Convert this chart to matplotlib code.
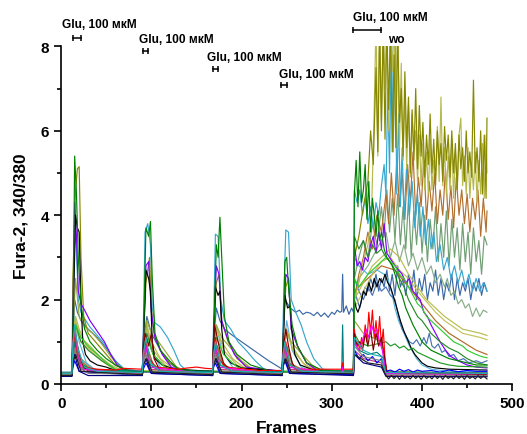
import matplotlib.pyplot as plt

plt.rcParams['font.family'] = ['Liberation Sans', 'DejaVu Sans']
plt.rcParams['font.weight'] = 'bold'
plt.rcParams['axes.labelweight'] = 'bold'

# (frame, 340/380 ratio) points, one list per cell

steelblue = [(0, .24), (12, .24), (13, 1.0), (15, 2.0), (18, 1.7), (22, 1.5), (30, 1.3), (40, 1.1), (50, .85),
             (60, .55), (70, .35), (90, .3), (91, .9), (95, 1.6), (100, 1.2), (110, .8), (120, .5), (130, .33),
             (168, .3), (169, 1.0), (172, 1.8), (176, 1.5), (181, 1.3), (190, 1.15), (200, 1.0), (210, .85),
             (220, .7), (230, .55), (240, .42), (245, .35), (246, 1.2), (248, 2.0), (251, 1.9), (254, 1.8),
             (257, 1.75), (260, 1.7), (264, 1.75), (268, 1.65), (272, 1.7), (276, 1.68), (280, 1.62), (284, 1.7),
             (288, 1.6), (292, 1.68), (296, 1.58), (300, 1.7), (303, 1.65), (306, 1.75), (309, 1.7), (311, 1.72),
             (312, 2.6), (313, 1.7), (316, 1.85), (319, 1.65), (322, 1.8), (324, 1.7), (325, 2.3), (328, 2.0),
             (331, 1.8), (334, 2.1), (337, 2.3), (340, 2.2), (343, 2.5), (346, 2.3), (349, 2.6), (352, 2.2),
             (355, 2.5), (358, 2.3), (361, 2.7), (364, 2.2), (367, 2.6), (370, 2.1), (373, 2.8), (376, 2.3),
             (379, 2.5), (382, 2.1), (385, 2.6), (388, 2.2), (391, 2.7), (394, 2.0), (397, 2.5), (400, 2.2),
             (403, 2.6), (406, 2.0), (409, 2.4), (412, 2.2), (415, 2.7), (418, 2.1), (421, 2.5), (424, 2.0),
             (427, 2.4), (430, 2.2), (433, 2.6), (436, 2.0), (439, 2.5), (442, 2.1), (445, 2.4), (448, 2.2),
             (451, 2.5), (454, 2.0), (457, 2.4), (460, 2.2), (463, 2.5), (466, 2.1), (469, 2.4), (472, 2.2)]

graygreen = [(0, .22), (12, .22), (13, .7), (16, 1.1), (22, .6), (35, .35), (90, .28), (91, .6), (95, .9),
             (102, .45), (115, .3), (168, .28), (169, .6), (173, .9), (180, .45), (195, .3), (245, .28),
             (246, .6), (250, .9), (257, .45), (270, .3), (324, .3), (325, 2.5), (330, 3.0), (335, 3.4),
             (340, 3.0), (345, 3.8), (350, 3.3), (355, 4.2), (358, 3.5), (361, 4.6), (364, 3.6), (367, 4.4),
             (370, 3.4), (373, 4.5), (376, 3.3), (379, 4.2), (382, 3.2), (385, 4.4), (388, 3.0), (391, 4.1),
             (394, 3.3), (397, 4.3), (400, 3.1), (403, 4.0), (406, 2.9), (409, 3.9), (412, 3.2), (415, 4.2),
             (418, 2.9), (421, 3.8), (424, 3.0), (427, 4.1), (430, 2.8), (433, 3.9), (436, 3.0), (439, 3.7),
             (442, 2.7), (445, 3.8), (448, 2.9), (451, 3.6), (454, 2.6), (457, 3.7), (460, 2.9), (463, 3.4),
             (466, 2.6), (469, 3.5), (472, 3.3)]

graygreen2 = [(0, .2), (12, .2), (13, .6), (16, .9), (22, .5), (35, .3), (90, .25), (91, .5), (95, .8),
              (102, .4), (115, .27), (168, .25), (169, .5), (173, .8), (180, .4), (195, .27), (245, .25),
              (246, .5), (250, .8), (257, .4), (270, .27), (324, .28), (325, 2.0), (330, 2.5), (340, 2.8),
              (350, 3.2), (360, 3.6), (365, 3.0), (370, 3.4), (375, 2.9), (380, 3.3), (385, 2.8), (390, 3.1),
              (395, 2.7), (400, 3.0), (405, 2.6), (410, 2.8), (415, 2.4), (420, 2.6), (425, 2.3), (428, 2.5),
              (432, 2.1), (436, 2.2), (440, 1.9), (444, 2.0), (448, 1.8), (452, 1.9), (456, 1.6), (460, 1.8),
              (464, 1.6), (468, 1.75), (472, 1.7)]

brown = [(0, .25), (12, .25), (13, .7), (16, 1.0), (22, .55), (35, .32), (90, .3), (91, .6), (95, .9),
         (102, .45), (115, .32), (168, .3), (169, .6), (173, .9), (180, .45), (195, .32), (245, .3),
         (246, .6), (250, .9), (257, .45), (270, .32), (324, .3), (325, 2.0), (330, 2.6), (335, 3.0),
         (340, 3.6), (345, 3.2), (350, 4.0), (355, 3.6), (360, 4.5), (363, 3.8), (366, 5.0), (369, 4.0),
         (372, 5.3), (375, 4.2), (378, 5.0), (381, 3.9), (384, 5.2), (387, 4.3), (390, 5.5), (393, 4.0),
         (396, 4.9), (399, 4.2), (402, 5.3), (405, 3.9), (408, 4.8), (411, 4.1), (414, 5.0), (417, 3.8),
         (420, 4.6), (423, 4.0), (426, 5.1), (429, 3.9), (432, 4.7), (435, 3.7), (438, 4.9), (441, 4.0),
         (444, 4.6), (447, 3.8), (450, 4.5), (453, 3.6), (456, 4.4), (459, 3.9), (462, 4.6), (465, 3.5),
         (468, 4.4), (471, 3.6), (472, 4.1)]

brown2 = [(0, .22), (12, .22), (13, .5), (16, .8), (22, .4), (35, .28), (324, .28), (325, 2.2), (340, 2.5),
          (355, 2.8), (370, 2.7), (385, 2.3), (400, 1.9), (415, 1.5), (430, 1.2), (445, 1.0), (460, .8),
          (472, .7)]

lightblue = [(0, .22), (12, .22), (13, 1.5), (15, 3.6), (17, 3.2), (19, 2.0), (22, 1.7), (26, 1.55), (32, 1.35),
             (40, 1.15), (48, .95), (55, .7), (62, .5), (70, .35), (90, .3), (91, 1.2), (93, 3.6), (96, 3.8),
             (99, 3.3), (101, 1.8), (104, 1.45), (110, 1.35), (118, 1.1), (125, .8), (132, .45), (140, .3),
             (168, .3), (169, 1.5), (171, 3.55), (174, 3.5), (177, 2.0), (181, 1.5), (188, 1.3), (196, 1.0),
             (205, .8), (215, .55), (225, .35), (245, .3), (246, 1.5), (249, 3.65), (252, 3.6), (255, 2.0),
             (260, 1.7), (266, 1.4), (272, 1.0), (280, .6), (290, .35), (311, .3), (312, .5), (313, .3),
             (324, .3), (325, 4.6), (328, 4.3), (331, 4.6), (334, 4.0), (337, 4.4), (340, 3.8), (343, 4.2),
             (346, 3.7), (349, 4.3), (352, 4.0), (355, 4.7), (358, 5.2), (360, 4.5), (362, 7.0), (364, 5.0),
             (366, 8.6), (368, 5.5), (370, 8.6), (372, 4.5), (374, 6.4), (376, 4.2), (378, 5.6), (380, 3.9),
             (383, 5.2), (386, 4.0), (389, 4.8), (392, 3.7), (395, 4.5), (398, 3.5), (401, 4.2), (404, 3.3),
             (407, 3.9), (410, 3.2), (413, 3.6), (416, 2.9), (420, 3.3), (424, 2.7), (428, 3.0), (432, 2.5),
             (436, 2.8), (440, 2.4), (444, 2.7), (448, 2.3), (452, 2.6), (456, 2.2), (460, 2.5), (464, 2.2),
             (468, 2.4), (472, 2.2)]

lightblue2 = [(0, .2), (12, .2), (13, .8), (15, 1.6), (20, 1.0), (28, .5), (40, .3), (90, .26), (91, .7),
              (95, 1.4), (100, .8), (110, .4), (125, .28), (168, .26), (169, .8), (172, 1.4), (178, .8),
              (190, .4), (205, .28), (245, .26), (246, .7), (250, 1.5), (256, .8), (266, .4), (280, .28),
              (324, .28), (325, 3.0), (330, 2.8), (340, 2.6), (350, 2.7), (358, 2.6), (362, 2.5), (366, 2.2),
              (370, 1.8), (374, 1.5), (378, 1.3), (382, 1.1), (386, .9), (390, .75), (394, .6), (400, .45),
              (410, .35), (430, .3), (472, .28)]

steelblue2 = [(0, .2), (12, .2), (13, .6), (16, 1.0), (22, .5), (35, .28), (324, .28), (325, 2.5), (330, 2.2),
              (335, 2.0), (340, 2.3), (345, 2.1), (350, 2.4), (355, 2.2), (360, 2.3), (365, 2.1), (370, 2.0),
              (374, 1.6), (378, 1.3), (382, 1.15), (386, 1.0), (390, .95), (394, 1.05), (398, .9), (402, 1.1),
              (405, .95), (408, 1.2), (411, .9), (414, .85), (418, .95), (422, .75), (426, .8), (430, .65),
              (435, .7), (440, .55), (446, .6), (452, .5), (460, .55), (466, .5), (472, .55)]

khaki = [(0, .2), (12, .2), (13, 1.2), (16, 1.6), (20, 1.3), (28, .9), (40, .7), (55, .45), (70, .3), (90, .28),
         (91, .9), (95, 1.4), (100, 1.0), (110, .6), (125, .35), (168, .28), (169, .9), (172, 1.3), (178, 1.0),
         (190, .6), (205, .35), (245, .28), (246, .8), (250, 1.2), (256, .9), (268, .5), (282, .3), (324, .3),
         (325, 2.0), (330, 2.4), (335, 2.9), (340, 3.3), (344, 4.0), (347, 6.5), (349, 8.6), (351, 5.4),
         (353, 8.6), (355, 6.2), (357, 8.6), (359, 7.0), (361, 8.6), (363, 6.0), (365, 8.6), (367, 7.4),
         (369, 8.6), (371, 5.9), (373, 8.6), (375, 5.6), (377, 7.6), (379, 5.3), (381, 6.9), (383, 5.1),
         (385, 6.6), (387, 4.9), (389, 6.4), (391, 5.5), (393, 6.0), (395, 4.8), (397, 5.9), (399, 4.7),
         (401, 5.7), (403, 4.6), (405, 5.5), (407, 4.5), (409, 5.8), (411, 4.6), (413, 5.3), (415, 4.9),
         (417, 6.1), (419, 4.8), (421, 6.8), (423, 4.7), (425, 5.6), (427, 4.5), (429, 5.4), (431, 4.6),
         (433, 5.8), (435, 4.4), (437, 5.5), (439, 4.6), (441, 5.9), (443, 6.3), (445, 4.7), (447, 5.4),
         (449, 4.5), (451, 5.6), (453, 4.4), (455, 5.2), (457, 4.6), (459, 5.5), (461, 4.3), (463, 5.3),
         (465, 4.5), (467, 5.7), (469, 4.4), (471, 5.9), (472, 5.0)]

olive = [(0, .24), (12, .24), (13, 2.5), (16, 4.6), (18, 5.1), (20, 5.15), (22, 3.0), (25, 1.6), (30, 1.2),
         (40, .95), (50, .7), (60, .45), (75, .3), (90, .3), (91, 1.0), (94, 2.4), (98, 3.0), (100, 1.8),
         (103, 1.2), (110, .8), (120, .5), (135, .32), (168, .3), (169, 1.2), (172, 2.4), (175, 2.6),
         (178, 1.5), (185, 1.0), (195, .6), (210, .35), (245, .3), (246, 1.0), (249, 2.3), (252, 2.5),
         (255, 1.3), (262, .9), (272, .5), (285, .32), (311, .3), (312, .45), (313, .3), (324, .3),
         (325, 3.0), (330, 3.5), (335, 4.2), (340, 4.8), (343, 6.0), (346, 5.2), (349, 7.5), (351, 5.5),
         (353, 8.5), (355, 6.0), (357, 8.5), (359, 5.8), (361, 8.5), (363, 6.5), (365, 8.5), (367, 5.5),
         (369, 7.8), (371, 5.6), (373, 8.5), (375, 6.2), (377, 7.0), (379, 5.4), (381, 7.4), (383, 5.6),
         (385, 6.8), (387, 5.0), (389, 6.5), (391, 5.3), (393, 7.0), (395, 5.1), (397, 6.6), (399, 5.4),
         (401, 6.2), (403, 4.9), (405, 5.9), (407, 5.2), (409, 6.4), (411, 5.0), (413, 5.8), (415, 4.7),
         (417, 6.0), (419, 5.2), (421, 5.7), (423, 4.8), (425, 6.1), (427, 5.3), (429, 5.9), (431, 4.9),
         (433, 6.0), (435, 5.0), (437, 5.7), (439, 4.6), (441, 5.9), (443, 5.1), (445, 5.6), (447, 4.8),
         (449, 6.0), (451, 5.0), (453, 5.5), (455, 4.9), (457, 7.2), (459, 5.0), (461, 5.6), (463, 4.8),
         (465, 6.0), (467, 4.5), (469, 5.9), (471, 4.4), (472, 6.3)]

khaki2 = [(0, .22), (12, .22), (13, .9), (16, 1.5), (22, 1.1), (32, .9), (45, .6), (60, .35), (90, .28),
          (91, .8), (95, 1.3), (102, .8), (115, .45), (130, .3), (168, .28), (169, .8), (173, 1.3),
          (180, .8), (195, .45), (210, .3), (245, .28), (246, .8), (250, 1.3), (257, .8), (270, .45),
          (285, .3), (324, .3), (325, 2.0), (335, 2.4), (345, 2.8), (355, 3.0), (365, 3.2), (375, 3.0),
          (385, 2.6), (395, 2.3), (405, 2.0), (415, 1.8), (425, 1.6), (435, 1.45), (445, 1.3), (455, 1.25),
          (465, 1.2), (472, 1.15)]

khaki3 = [(0, .2), (12, .2), (13, .8), (16, 1.3), (22, 1.0), (32, .8), (45, .55), (60, .32), (324, .28),
          (325, 1.8), (335, 2.2), (345, 2.6), (355, 2.9), (365, 3.0), (375, 2.7), (385, 2.5), (395, 2.2),
          (405, 1.95), (415, 1.7), (425, 1.5), (435, 1.35), (445, 1.2), (455, 1.15), (465, 1.1), (472, 1.05)]

yellowgreen = [(0, .22), (12, .22), (13, 1.2), (16, 2.5), (20, 1.6), (26, 1.35), (35, 1.2), (45, .95),
               (55, .65), (65, .4), (75, .3), (90, .28), (91, .8), (95, 1.5), (100, 1.2), (108, 1.0),
               (118, .7), (128, .4), (138, .3), (168, .28), (169, .8), (172, 1.4), (178, 1.1), (188, .85),
               (200, .55), (212, .35), (245, .28), (246, .8), (249, 1.3), (255, 1.0), (265, .75), (278, .45),
               (290, .3), (324, .3), (325, 1.5), (335, 1.2), (345, 1.1), (355, 1.0), (361, .3), (472, .26)]

purple = [(0, .22), (12, .22), (13, 1.5), (15, 4.3), (17, 3.5), (19, 2.2), (22, 1.9), (26, 1.75), (32, 1.5),
          (40, 1.25), (48, 1.0), (55, .7), (62, .45), (70, .32), (90, .3), (91, 1.0), (94, 2.8), (97, 2.9),
          (100, 1.7), (104, 1.1), (112, .7), (122, .4), (135, .3), (168, .3), (169, 1.2), (172, 2.8),
          (175, 2.6), (178, 1.5), (184, 1.1), (192, .7), (205, .4), (245, .3), (246, 1.0), (249, 2.6),
          (252, 2.5), (255, 1.3), (262, .9), (272, .5), (285, .3), (324, .3), (325, 3.3), (328, 2.8),
          (331, 2.9), (334, 2.7), (337, 3.0), (340, 2.9), (343, 3.3), (346, 3.5), (349, 3.1), (352, 3.6),
          (355, 3.2), (358, 3.8), (361, 3.1), (364, 3.0), (367, 2.9), (370, 2.8), (374, 2.7), (378, 2.6),
          (382, 2.4), (386, 2.5), (390, 2.2), (394, 2.1), (398, 2.0), (402, 1.7), (406, 1.6), (410, 1.4),
          (415, 1.2), (420, 1.0), (426, .8), (432, .65), (440, .55), (450, .45), (460, .4), (472, .38)]

black = [(0, .22), (12, .22), (13, 1.2), (16, 4.0), (18, 3.7), (20, 3.6), (22, 2.0), (24, 1.0), (27, .7),
         (32, .55), (40, .45), (50, .4), (60, .32), (80, .3), (90, .28), (91, .8), (94, 2.7), (97, 2.5),
         (99, 2.2), (101, 1.0), (104, .6), (112, .45), (125, .35), (168, .3), (169, .9), (171, 2.3),
         (174, 2.1), (176, 2.2), (178, 1.3), (181, .7), (188, .5), (200, .38), (245, .3), (246, .9),
         (248, 2.1), (251, 1.8), (254, 1.85), (256, 1.2), (259, .7), (265, .45), (280, .33), (311, .3),
         (312, .45), (313, .3), (324, .3), (325, 2.0), (327, 1.8), (329, 1.7), (332, 1.9), (335, 2.2),
         (338, 2.1), (341, 2.4), (344, 2.2), (347, 2.5), (350, 2.3), (353, 2.5), (356, 2.4), (359, 2.6),
         (362, 2.4), (365, 2.3), (368, 2.1), (372, 1.8), (376, 1.5), (380, 1.25), (384, 1.05), (388, .85),
         (392, .7), (396, .6), (400, .5), (406, .42), (415, .38), (430, .35), (472, .33)]

green = [(0, .22), (12, .22), (13, 1.0), (15, 5.4), (17, 4.5), (19, 3.0), (22, 1.9), (26, 1.3), (32, 1.0),
         (40, .8), (50, .6), (60, .45), (70, .35), (80, .3), (90, .28), (91, .8), (94, 3.7), (97, 3.5),
         (99, 3.85), (101, 2.5), (104, 1.2), (110, .8), (120, .55), (130, .35), (150, .3), (168, .3),
         (169, 1.0), (172, 3.3), (174, 3.0), (176, 3.95), (178, 3.0), (181, 1.6), (186, 1.0), (195, .7),
         (210, .45), (230, .32), (245, .3), (246, .9), (248, 2.9), (250, 3.0), (252, 2.3), (256, 1.4),
         (262, .9), (272, .5), (290, .32), (311, .3), (312, .5), (313, .3), (324, .3), (325, 4.5),
         (327, 5.3), (329, 4.2), (331, 5.5), (333, 4.3), (335, 4.6), (337, 5.2), (339, 3.9), (341, 4.8),
         (343, 3.6), (345, 4.4), (347, 4.0), (349, 3.5), (351, 4.1), (353, 3.4), (355, 3.6), (358, 3.2),
         (361, 3.0), (364, 2.9), (367, 2.8), (370, 2.6), (374, 2.3), (378, 2.1), (382, 1.8), (386, 1.6),
         (390, 1.4), (395, 1.2), (400, 1.0), (405, .9), (410, .8), (420, .7), (430, .6), (440, .55),
         (450, .5), (460, .45), (472, .45)]

green2 = [(0, .22), (12, .22), (13, .8), (16, 1.4), (22, 1.0), (30, .8), (45, .55), (60, .35), (90, .28),
          (91, .7), (95, 1.2), (102, .7), (115, .4), (130, .3), (324, .3), (325, 3.5), (330, 3.2), (335, 3.4),
          (340, 3.0), (345, 3.3), (350, 3.1), (355, 3.2), (360, 3.0), (365, 2.9), (370, 2.7), (375, 2.5),
          (380, 2.3), (385, 2.0), (390, 1.8), (395, 1.6), (400, 1.5), (405, 1.35), (410, 1.2), (415, 1.1),
          (420, 1.0), (430, .85), (440, .75), (450, .6), (460, .5), (472, .45)]

limegreen = [(0, .22), (12, .22), (13, .9), (16, 1.4), (22, 1.1), (30, .9), (40, .7), (50, .5), (62, .32),
             (90, .28), (91, .7), (95, 1.1), (102, .7), (115, .4), (130, .3), (168, .28), (169, .7),
             (172, 1.1), (180, .7), (195, .4), (210, .3), (324, .3), (325, 2.5), (330, 2.3), (340, 2.6),
             (350, 2.8), (360, 3.0), (365, 2.9), (370, 2.8), (375, 2.6), (380, 2.5), (385, 2.3), (390, 2.1),
             (395, 1.9), (400, 1.8), (405, 1.6), (410, 1.5), (415, 1.4), (420, 1.3), (425, 1.2), (430, 1.1),
             (435, 1.0), (440, .95), (445, .9), (450, .8), (455, .75), (460, .7), (466, .65), (472, .62)]

green3 = [(0, .2), (12, .2), (13, .6), (16, 1.0), (22, .5), (35, .3), (324, .28), (325, 1.2), (330, 1.0),
          (340, .9), (350, .95), (360, 1.0), (365, .9), (370, .95), (375, .85), (380, .9), (385, .8),
          (390, .85), (395, .75), (400, .7), (405, .65), (410, .6), (415, .55), (420, .5), (430, .45),
          (440, .42), (472, .4)]

teal = [(0, .28), (12, .28), (13, .7), (15, 1.0), (19, .6), (26, .35), (90, .3), (91, .6), (94, .9),
        (99, .45), (110, .3), (168, .3), (169, .6), (171, .95), (176, .45), (190, .3), (245, .3), (246, .6),
        (248, .9), (253, .45), (265, .3), (311, .3), (312, 1.4), (313, .3), (324, .3), (325, 1.0),
        (330, .8), (340, .7), (350, .75), (358, .6), (361, .28), (472, .26)]

red = [(0, .25), (12, .25), (13, .8), (15, 1.2), (18, .7), (25, .4), (40, .35), (60, .33), (70, .37),
       (80, .36), (90, .35), (91, .7), (94, 1.0), (98, .6), (105, .4), (130, .35), (140, .38), (150, .4),
       (160, .37), (168, .36), (169, .8), (171, 1.1), (175, .6), (182, .4), (220, .32), (245, .32),
       (246, .7), (249, 1.0), (253, .5), (260, .35), (311, .35), (312, .5), (313, .35), (324, .35),
       (325, 1.3), (327, .9), (329, 1.0), (331, .8), (333, 1.1), (335, .9), (337, 1.4), (339, 1.0),
       (341, 1.7), (343, 1.2), (345, 1.75), (347, 1.1), (349, 1.5), (351, 1.0), (353, 1.6), (355, .9),
       (357, 1.3), (359, .6), (361, .3), (365, .25), (472, .25)]

darkred = [(0, .2), (12, .2), (13, 1.0), (15, 1.35), (18, .9), (22, .5), (30, .3), (90, .25), (91, .8),
           (93, 1.2), (97, .9), (100, 1.2), (103, .6), (110, .3), (168, .25), (169, 1.0), (170, 1.4),
           (173, 1.1), (176, .8), (180, .5), (188, .3), (245, .25), (246, .8), (249, 1.3), (252, .9),
           (256, .5), (262, .3), (324, .28), (325, 1.2), (328, .9), (331, 1.0), (334, .8), (337, 1.2),
           (340, .9), (343, 1.3), (346, .8), (349, 1.2), (352, .9), (355, 1.1), (358, .7), (361, .25),
           (472, .22)]

magenta = [(0, .2), (12, .2), (13, .9), (15, 1.3), (18, .8), (22, .35), (90, .22), (91, .7), (94, .9),
           (98, .4), (168, .22), (169, .7), (171, .9), (175, .4), (245, .22), (246, .7), (248, .9),
           (252, .4), (311, .22), (312, .4), (313, .22), (324, .22), (325, 1.0), (330, .8), (335, 1.1),
           (338, 1.3), (341, 1.1), (344, 1.4), (347, 1.2), (350, 1.3), (353, 1.0), (356, .8), (360, .25),
           (472, .2)]

mauve = [(0, .2), (12, .2), (13, 1.0), (15, 1.3), (19, .7), (25, .3), (90, .24), (91, .6), (93, .8),
         (97, .35), (168, .24), (169, .6), (171, .8), (175, .35), (245, .24), (246, .6), (248, .8),
         (252, .35), (324, .24), (325, .8), (335, .6), (345, .55), (355, .5), (360, .2), (472, .18)]

blue = [(0, .2), (12, .2), (13, .4), (15, .55), (20, .3), (90, .2), (91, .35), (94, .5), (100, .25),
        (168, .2), (169, .4), (171, .5), (176, .25), (245, .2), (246, .4), (248, .55), (253, .25),
        (324, .22), (325, .8), (330, .6), (335, .7), (340, .55), (345, .65), (350, .5), (355, .6), (360, .3),
        (365, .33), (370, .28), (375, .35), (380, .3), (385, .34), (390, .28), (395, .33), (400, .3),
        (410, .32), (420, .28), (430, .33), (440, .29), (450, .32), (460, .3), (472, .3)]

navy = [(0, .18), (12, .18), (13, .5), (15, .7), (20, .3), (30, .2), (90, .2), (91, .45), (94, .6),
        (100, .25), (168, .2), (169, .45), (171, .6), (177, .25), (245, .2), (246, .45), (248, .6),
        (254, .25), (324, .2), (325, .7), (335, .5), (345, .45), (355, .4), (360, .18), (472, .17)]

gray = [(0, .23), (12, .23), (13, .6), (15, .85), (20, .4), (30, .25), (90, .23), (91, .5), (94, .7),
        (100, .3), (168, .23), (169, .5), (171, .7), (177, .3), (245, .23), (246, .5), (248, .7),
        (254, .3), (324, .25), (325, .9), (335, .65), (345, .6), (355, .55), (360, .22), (472, .2)]

black2 = [(0, .2), (12, .2), (13, .5), (16, .7), (22, .3), (90, .22), (91, .45), (95, .6), (101, .28),
          (168, .22), (169, .45), (172, .6), (178, .28), (245, .22), (246, .45), (249, .6), (255, .28),
          (324, .24), (325, .7), (340, .5), (355, .45), (360, .2), (363, .12), (366, .2), (369, .13),
          (372, .19), (375, .11), (378, .2), (381, .13), (384, .18), (387, .12), (390, .2), (393, .13),
          (396, .19), (399, .11), (402, .2), (405, .13), (408, .18), (411, .12), (414, .2), (417, .13),
          (420, .19), (423, .11), (426, .2), (429, .13), (432, .18), (435, .12), (438, .2), (441, .13),
          (444, .19), (447, .11), (450, .2), (453, .13), (456, .18), (459, .12), (462, .2), (465, .13),
          (468, .19), (472, .12)]

cyan = [(0, .25), (12, .25), (13, .9), (15, 1.4), (19, .8), (26, .4), (40, .3), (90, .27), (91, .7),
        (94, 1.1), (99, .5), (110, .3), (168, .27), (169, .7), (171, 1.0), (177, .45), (190, .3),
        (245, .27), (246, .7), (248, 1.0), (254, .45), (268, .3), (324, .28), (325, 1.1), (335, .8),
        (345, .7), (355, .65), (360, .27), (472, .25)]

stim_spans = [(13, 22), (91, 96), (168, 174), (244, 250), (324, 355)]
stim_levels = [8.2, 7.89, 7.47, 7.09, 8.4]
stim_text = 'Glu, 100 мкМ'

traces = [
    (steelblue, '#3a68a8'), (graygreen, '#6f9f72'), (graygreen2, '#86ae86'), (brown, '#b2702e'),
    (brown2, '#b06a2a'), (lightblue, '#35a7d0'), (lightblue2, '#56b4dc'), (steelblue2, '#4874b4'),
    (khaki, '#b6b94c'), (olive, '#878700'), (khaki2, '#b8bc50'), (khaki3, '#c2c45c'),
    (yellowgreen, '#98a83a'), (purple, '#8000ff'), (black, '#000000'), (green2, '#2a8a2a'),
    (limegreen, '#33cc33'), (green3, '#229922'), (green, '#008000'), (teal, '#008080'),
    (red, '#ff0000'), (darkred, '#800000'), (magenta, '#ff00ff'), (mauve, '#c04080'),
    (blue, '#0000ff'), (navy, '#000080'), (gray, '#808080'), (black2, '#202020'), (cyan, '#20b0b0'),
]

fig = plt.figure(figsize=(5.27, 4.35), dpi=100)
ax = fig.add_axes([0.116, 0.115, 0.856, 0.776])

for pts, color in traces:
    fr = [p[0] for p in pts]
    val = [p[1] for p in pts]
    ax.plot(fr, val, color=color, lw=0.85)

# stimulus bars and labels above the plot
text_dx = [-12, -4.5, -6, -3, -1]
text_dy = [0.34, 0.29, 0.29, 0.26, 0.3]
for (a, b), lev, dx, dy in zip(stim_spans, stim_levels, text_dx, text_dy):
    ax.plot([a, b], [lev, lev], color='k', lw=1.1, marker='|', ms=4, mew=1.1, clip_on=False)
    ax.text(a + dx, lev + dy, stim_text, fontsize=8.6, fontweight='bold', va='center', ha='left',
            clip_on=False)
ax.text(362, 8.18, 'wo', fontsize=8.6, fontweight='bold', va='center', ha='left', clip_on=False)

ax.set_xlim(0, 500)
ax.set_ylim(0, 8)
ax.set_xticks([0, 100, 200, 300, 400, 500])
ax.set_xticks([50, 150, 250, 350, 450], minor=True)
ax.set_yticks([0, 2, 4, 6, 8])
ax.set_yticks([1, 3, 5, 7], minor=True)
ax.tick_params(which='major', direction='out', length=5, width=1.2, labelsize=11)
ax.tick_params(which='minor', direction='out', length=3, width=1.2)
for s in ['top', 'right']:
    ax.spines[s].set_visible(False)
for s in ['left', 'bottom']:
    ax.spines[s].set_linewidth(1.2)
for lab in ax.get_xticklabels() + ax.get_yticklabels():
    lab.set_fontweight('bold')
ax.set_xlabel('Frames', fontsize=12.5, fontweight='bold', labelpad=7)
ax.set_ylabel('Fura-2, 340/380', fontsize=12.5, fontweight='bold', labelpad=9)

fig.savefig('out.png', dpi=100)
